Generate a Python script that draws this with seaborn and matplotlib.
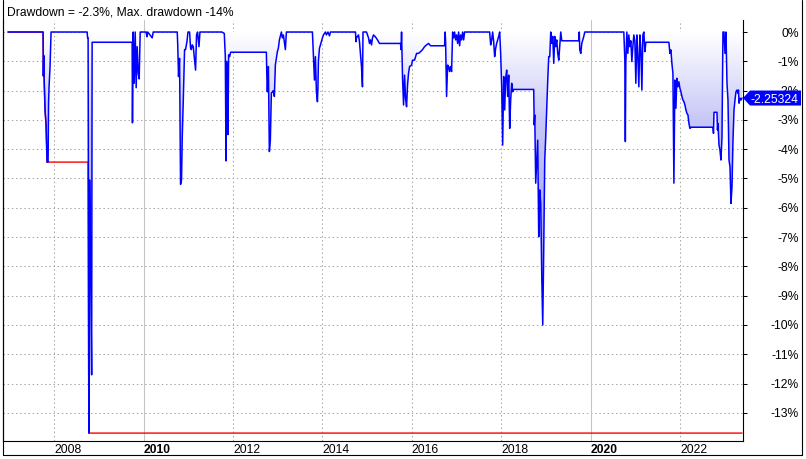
import numpy as np
import pandas as pd
import matplotlib
matplotlib.use("Agg")
import matplotlib.pyplot as plt
import seaborn as sns
from matplotlib.colors import LinearSegmentedColormap
from matplotlib.patches import Polygon
from matplotlib.lines import Line2D
from matplotlib.transforms import blended_transform_factory, ScaledTranslation

# drawdown curve (decimal year, percent)
years = [
    2006.970, 2007.754, 2007.760, 2007.769, 2007.776, 2007.798, 2007.821, 2007.843, 2007.866, 2007.877, 2007.888, 2007.910, 2007.933,
    2008.739, 2008.750, 2008.761, 2008.777, 2008.795, 2008.817, 2008.840, 2008.851, 2009.746,
    2009.753, 2009.769, 2009.791, 2009.814, 2009.836, 2009.858, 2009.881, 2009.903, 2009.926, 2010.060, 2010.076, 2010.094, 2010.194, 2010.217, 2010.754,
    2010.765, 2010.783, 2010.806, 2010.828, 2010.850, 2010.866, 2010.888, 2010.918, 2010.940, 2010.971, 2010.994, 2011.030, 2011.052, 2011.068, 2011.090, 2011.112, 2011.164, 2011.186, 2011.209, 2011.240, 2011.262, 2011.755,
    2011.806, 2011.829, 2011.845, 2011.858, 2011.874, 2011.889, 2011.903, 2011.925, 2011.948, 2012.747,
    2012.758, 2012.769, 2012.792, 2012.814, 2012.836, 2012.859, 2012.881, 2012.904, 2012.926, 2012.948, 2012.971, 2012.993, 2013.016, 2013.038, 2013.083, 2013.105, 2013.128, 2013.172, 2013.195, 2013.777,
    2013.799, 2013.822, 2013.844, 2013.866, 2013.889, 2013.900, 2013.911, 2013.934, 2013.956, 2014.001, 2014.023, 2014.068, 2014.090, 2014.124, 2014.158, 2014.180, 2014.740,
    2014.751, 2014.762, 2014.807, 2014.829, 2014.874, 2014.896, 2014.908, 2014.986, 2015.031, 2015.053, 2015.076, 2015.098, 2015.120, 2015.143, 2015.188, 2015.232, 2015.277, 2015.747,
    2015.759, 2015.770, 2015.792, 2015.815, 2015.837, 2015.859, 2015.882, 2015.904, 2015.926, 2015.949, 2015.994, 2016.016, 2016.061, 2016.106, 2016.150, 2016.195, 2016.240, 2016.285, 2016.330, 2016.374, 2016.419, 2016.733,
    2016.744, 2016.755, 2016.777, 2016.800, 2016.822, 2016.844, 2016.867, 2016.889, 2016.912, 2016.934, 2016.956, 2016.979, 2017.001, 2017.024, 2017.046, 2017.068, 2017.091, 2017.113, 2017.136, 2017.158, 2017.180, 2017.740,
    2017.763, 2017.785, 2017.807, 2017.830, 2017.852, 2017.874, 2017.897, 2017.919, 2017.942, 2017.964, 2017.986, 2018.009, 2018.031, 2018.054, 2018.076, 2018.098, 2018.121, 2018.143, 2018.166, 2018.188, 2018.210, 2018.233, 2018.255, 2018.278, 2018.725,
    2018.737, 2018.748, 2018.770, 2018.793, 2018.815, 2018.837, 2018.860, 2018.882, 2018.904, 2018.927, 2018.949, 2018.972, 2018.994, 2019.016, 2019.039, 2019.061, 2019.084, 2019.106, 2019.128, 2019.151, 2019.173, 2019.196, 2019.218, 2019.240, 2019.263, 2019.285, 2019.307, 2019.330, 2019.352, 2019.733,
    2019.744, 2019.755, 2019.778, 2019.800, 2019.822, 2019.845, 2019.867, 2020.740,
    2020.763, 2020.774, 2020.785, 2020.808, 2020.830, 2020.852, 2020.875, 2020.897, 2020.920, 2020.942, 2020.964, 2020.987, 2021.009, 2021.032, 2021.054, 2021.076, 2021.099, 2021.121, 2021.144, 2021.166, 2021.188, 2021.211, 2021.233, 2021.748,
    2021.770, 2021.793, 2021.815, 2021.838, 2021.860, 2021.882, 2021.905, 2021.927, 2021.950, 2021.972, 2021.994, 2022.017, 2022.039, 2022.062, 2022.084, 2022.106, 2022.129, 2022.151, 2022.174, 2022.196, 2022.218, 2022.241, 2022.733,
    2022.745, 2022.756, 2022.823, 2022.834, 2022.845, 2022.868, 2022.890, 2022.912, 2022.935, 2022.957, 2022.980, 2023.002, 2023.024, 2023.047, 2023.069, 2023.092, 2023.114, 2023.136, 2023.159, 2023.181, 2023.204, 2023.226, 2023.248, 2023.271, 2023.293, 2023.304, 2023.316, 2023.338, 2023.360, 2023.383,
]
drawdown = [
    0, 0, -1.5, -0.8, -1.5, -2.67, -3.17, -4.44, -4.44, -2.42, -1.87, -1.18, 0,
    0, -0.2, -0.2, -13.69, -5.05, -7.9, -11.7, -0.35, -0.35,
    -3.1, 0, -1.75, 0, -1.9, -0.5, -1.4, -1.6, 0, 0, -0.16, 0, -0.2, 0, 0,
    -0.44, -1.52, -0.9, -5.2, -5.05, -3.6, -2.4, -0.6, -0.6, -0.33, 0, 0, -0.55, -0.6, -0.44, -0.5, -1.3, -0.1, 0, -0.5, 0, 0,
    -0.05, -0.84, -4.4, -1.0, -2.6, -3.5, -0.78, -0.84, -0.69, -0.69,
    -1.52, -2.04, -1.18, -4.08, -3.69, -2.08, -2.05, -2.0, -2.2, -1.13, -0.9, -0.67, -0.55, -0.27, 0, -0.2, -0.1, -0.6, 0, 0,
    -0.79, -1.64, -0.84, -2.04, -2.38, -1.9, -1.0, -0.56, -0.44, -0.2, -0.1, 0, -0.1, 0, -0.13, 0, 0,
    -0.33, -0.2, -0.1, -0.33, -1.18, -1.87, 0, 0, -0.2, -0.39, -0.27, -0.44, -0.2, -0.1, -0.17, -0.27, -0.39, -0.39,
    -0.6, 0, -1.58, -2.49, -1.47, -2.26, -2.55, -1.81, -1.41, -1.18, -1.13, -0.96, -0.96, -0.73, -0.73, -0.67, -0.6, -0.5, -0.44, -0.39, -0.47, -0.47,
    0, -0.33, -2.2, -1.13, -1.18, -1.35, -1.18, -1.35, 0, -0.2, 0, -0.27, -0.1, -0.39, 0, -0.47, -0.1, -0.27, 0, -0.27, 0, 0,
    -0.44, -0.27, 0, -0.33, -0.84, -0.56, -0.39, -0.27, -0.15, 0, -0.73, -1.87, -3.86, -1.52, -2.66, -1.58, -1.3, -2.2, -1.47, -3.29, -2.32, -1.75, -2.04, -1.96, -1.96,
    -3.17, -2.83, -5.16, -4.37, -3.69, -6.99, -5.39, -5.84, -8.24, -10.0, -7.44, -4.37, -3.57, -2.6, -1.64, -0.84, -0.84, 0, -0.39, -0.15, -1.07, -0.15, -0.5, -0.27, -0.73, -0.96, -0.5, 0, -0.3, -0.3,
    0, -0.61, -0.73, -0.39, -0.27, -0.15, 0, 0,
    -0.96, -3.74, -1.07, 0, -0.73, -0.1, -0.5, -0.3, -1.01, -0.5, -0.1, -0.3, -1.75, -0.1, -0.84, -1.87, -0.1, -0.61, -1.98, -0.1, 0, -0.67, -0.35, -0.35,
    -0.73, -0.61, -1.07, -1.41, -5.16, -1.64, -2.6, -1.58, -1.87, -1.7, -1.92, -2.04, -2.2, -2.32, -2.38, -2.49, -2.66, -2.78, -2.83, -3.12, -3.29, -3.25, -3.25,
    -3.46, -2.74, -2.74, -3.34, -3.12, -3.86, -4.03, -4.37, -3.6, 0, 0, -0.73, 0, -1.75, -2.32, -4.37, -4.6, -5.85, -5.28, -3.69, -2.66, -2.32, -2.04, -1.98, -2.09, -1.98, -2.43, -2.26, -2.32, -2.25324,
]

year_ticks = [2008, 2010, 2012, 2014, 2016, 2018, 2020, 2022]
bold_years = [2010, 2020]
pct_ticks = list(range(0, -14, -1))

W, H = 806, 459
X_RANGE = (2006.858, 2023.405)
Y_RANGE = (-13.96, 0.41)
FS = 8.7


def main():
    df = pd.DataFrame({"year": years, "dd": drawdown})
    df["max_dd"] = df["dd"].cummin()
    last = df["dd"].iloc[-1]
    worst = df["dd"].min()

    sns.set_style("white")
    plt.rcParams["font.family"] = ["Liberation Sans", "DejaVu Sans"]

    fig = plt.figure(figsize=(W / 100, H / 100), dpi=100)
    ax = fig.add_axes([3 / W, 18 / H, 740 / W, 421 / H])

    # gradient fill between curve and zero
    cmap = LinearSegmentedColormap.from_list(
        "dd", [(0, "#ffffff"), (0.22, "#c6c6f7"), (0.5, "#aaaaf2"), (1, "#9898ee")])
    fill = ax.fill_between(df["year"], df["dd"], 0, facecolor="none", edgecolor="none")
    img = ax.imshow(np.linspace(0, 1, 256).reshape(-1, 1), cmap=cmap, aspect="auto",
                    extent=[X_RANGE[0], X_RANGE[1], -14, 0], origin="upper",
                    interpolation="bilinear", zorder=1)
    img.set_clip_path(fill.get_paths()[0], ax.transData)

    sns.lineplot(data=df, x="year", y="max_dd", color="#ff0000", lw=1.0,
                 estimator=None, sort=False, ax=ax, zorder=2)
    sns.lineplot(data=df, x="year", y="dd", color="#0000ff", lw=1.1,
                 estimator=None, sort=False, ax=ax, zorder=3)

    dots = (0, (1.4, 2.6))
    for v in pct_ticks:
        ax.axhline(v, color="#a8a8a8", lw=0.75, ls=dots, zorder=0)
    for yr in year_ticks:
        if yr in bold_years:
            ax.axvline(yr, color="#c4c4c4", lw=0.75, zorder=0)
        else:
            ax.axvline(yr, color="#a8a8a8", lw=0.75, ls=dots, zorder=0)

    ax.set_xlim(*X_RANGE)
    ax.set_ylim(*Y_RANGE)
    ax.set_xlabel("")
    ax.set_ylabel("")

    ax.set_xticks(year_ticks)
    ax.set_xticklabels([str(y) for y in year_ticks])
    shift = ScaledTranslation(2 / 100, 0, fig.dpi_scale_trans)
    for lab, yr in zip(ax.get_xticklabels(), year_ticks):
        lab.set_ha("left")
        lab.set_transform(lab.get_transform() + shift)
        if yr in bold_years:
            lab.set_fontweight("bold")
    ax.tick_params(axis="x", direction="out", length=3, width=0.75, pad=-1,
                   labelsize=FS, colors="black")

    ax.yaxis.tick_right()
    ax.set_yticks(pct_ticks)
    ax.set_yticklabels([f"{v}%" for v in pct_ticks])
    ax.tick_params(axis="y", direction="out", length=3, width=0.75, pad=37,
                   labelsize=FS, colors="black")
    for lab in ax.get_yticklabels():
        lab.set_ha("right")

    for side in ["left", "bottom", "right"]:
        ax.spines[side].set_visible(True)
        ax.spines[side].set_color("black")
        ax.spines[side].set_linewidth(0.8)
    ax.spines["top"].set_visible(False)

    # outer frame
    fig.add_artist(Line2D([802 / W, 802 / W], [4 / H, 1], transform=fig.transFigure, color="black", lw=0.8))
    fig.add_artist(Line2D([3 / W, 3 / W], [4 / H, 1], transform=fig.transFigure, color="black", lw=0.8))
    fig.add_artist(Line2D([3 / W, 802 / W], [4 / H, 4 / H], transform=fig.transFigure, color="black", lw=0.8))

    # last value marker on the price axis
    base = blended_transform_factory(ax.transAxes, ax.transData)
    anchor = fig.dpi_scale_trans + ScaledTranslation(1, last, base)
    verts = [(0.0, 0), (0.07, 0.075), (0.58, 0.075), (0.58, -0.075), (0.07, -0.075)]
    ax.add_patch(Polygon(verts, closed=True, transform=anchor, facecolor="#0000ff",
                         edgecolor="none", clip_on=False, zorder=5))
    ax.text(0.555, 0, f"{last:.5f}", transform=anchor, ha="right", va="center_baseline",
            color="white", fontsize=FS, zorder=6, clip_on=False)

    fig.text(7 / W, 1 - 12.5 / H, f"Drawdown = {last:.1f}%, Max. drawdown {worst:.0f}%",
             ha="left", va="center", fontsize=FS, color="black")

    fig.savefig("out.png", dpi=100)


if __name__ == "__main__":
    main()
